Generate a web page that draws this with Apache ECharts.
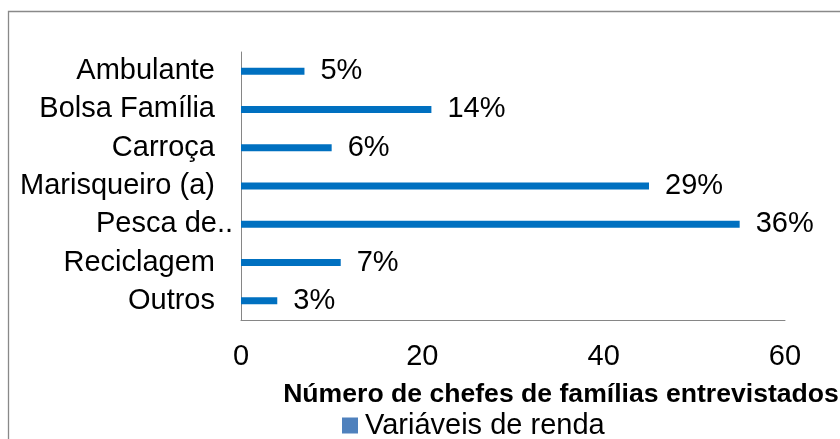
<!DOCTYPE html>
<html>
<head>
<meta charset="utf-8">
<script src="https://cdn.jsdelivr.net/npm/echarts@6/dist/echarts.min.js"></script>
<style>
  html, body { margin: 0; padding: 0; background: #fff; }
  #chart { width: 840px; height: 439px; }
</style>
</head>
<body>
<div id="chart"></div>
<script>
var categorias = ['Ambulante', 'Bolsa Família', 'Carroça', 'Marisqueiro (a)', 'Pesca de..', 'Reciclagem', 'Outros'];
var valores = [7, 21, 10, 45, 55, 11, 4];
var percentuais = ['5%', '14%', '6%', '29%', '36%', '7%', '3%'];
var ticksX = [0, 20, 40, 60];

var fonte = 'Liberation Sans, Arial, sans-serif';
var chart = echarts.init(document.getElementById('chart'));

chart.setOption({
	animation: false,
	textStyle: { fontFamily: fonte },
	grid: { left: 241, right: 55, top: 52, bottom: 119, containLabel: false, outerBoundsMode: 'none' },
	legend: {
		top: 406,
		left: 337,
		itemWidth: 16,
		itemHeight: 16,
		icon: 'rect',
		textStyle: { fontSize: 29, color: '#000', fontFamily: fonte, padding: [0, 0, 0, 2] },
		data: [{ name: 'Variáveis de renda', itemStyle: { color: '#4f81bd' } }]
	},
	xAxis: {
		type: 'value',
		min: ticksX[0],
		max: ticksX[ticksX.length - 1],
		interval: 20,
		name: 'Número de chefes de famílias entrevistados',
		nameLocation: 'middle',
		nameGap: 61,
		nameTextStyle: { fontSize: 26.6, fontWeight: 'bold', color: '#000', padding: [0, 0, 0, 96] },
		axisLine: { show: true, lineStyle: { color: '#868686', width: 1 } },
		axisTick: { show: false },
		splitLine: { show: false },
		axisLabel: { fontSize: 29, color: '#000', margin: 22 }
	},
	yAxis: {
		type: 'category',
		inverse: true,
		data: categorias,
		axisLine: { show: true, lineStyle: { color: '#868686', width: 1 } },
		axisTick: { show: false },
		axisLabel: {
			fontSize: 29,
			color: '#000',
			margin: 26,
			formatter: function (v) {
				return v === 'Pesca de..' ? '{c|' + v + '}' : v;
			},
			rich: {
				c: { fontSize: 29, color: '#000', padding: [0, -18, 0, 0] }
			}
		}
	},
	series: [{
		name: 'Variáveis de renda',
		type: 'bar',
		data: valores,
		barWidth: 7,
		itemStyle: { color: '#0070c0' },
		label: {
			show: true,
			position: 'right',
			distance: 16,
			fontSize: 29,
			color: '#000',
			formatter: function (p) { return percentuais[p.dataIndex]; }
		}
	}],
	graphic: [{
		type: 'rect',
		shape: { x: 8.5, y: 11.5, width: 900, height: 500 },
		style: { fill: 'none', stroke: '#898989', lineWidth: 1.3 },
		silent: true
	}]
});
</script>
</body>
</html>
